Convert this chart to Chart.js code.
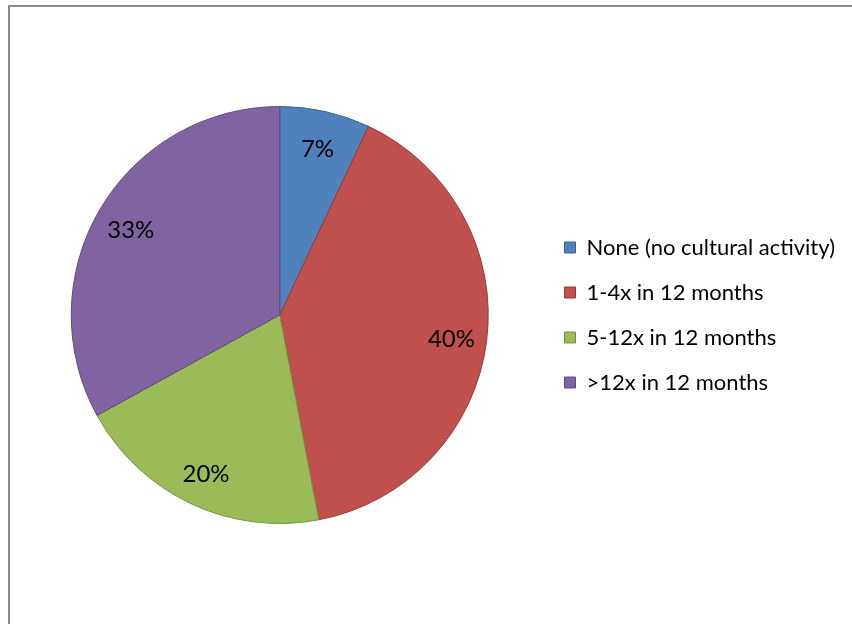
<!DOCTYPE html>
<html>
<head>
<meta charset="utf-8">
<script src="https://cdn.jsdelivr.net/npm/chart.js@4/dist/chart.umd.min.js"></script>
<style>
  html, body { margin: 0; padding: 0; background: #fff; }
  #wrap { position: relative; width: 852px; height: 624px; overflow: hidden; }
  #frame {
    position: absolute; left: 8px; top: 5px; width: 900px; height: 700px;
    border-left: 2px solid #8c8c8c; border-top: 2px solid #8c8c8c;
  }
  #activityChart { position: absolute; left: 0; top: 0; }
</style>
</head>
<body>
<div id="wrap">
  <div id="frame"></div>
  <canvas id="activityChart" width="852" height="624"></canvas>
</div>
<script>
  const categories = ['None (no cultural activity)', '1-4x in 12 months', '5-12x in 12 months', '>12x in 12 months'];
  const shares = [7, 40, 20, 33];
  const fillColours = ['#4f81bd', '#c0504d', '#9bbb59', '#8064a2'];
  const edgeColours = ['#3b6596', '#943c3a', '#76913f', '#5f4a7c'];

  // percentage text inside each slice, placed along the slice's middle angle
  const sliceLabels = {
    id: 'sliceLabels',
    afterDatasetsDraw(chart) {
      const ctx = chart.ctx;
      const meta = chart.getDatasetMeta(0);
      ctx.save();
      ctx.font = '24px Lato';
      ctx.fillStyle = '#000';
      ctx.textAlign = 'center';
      ctx.textBaseline = 'middle';
      meta.data.forEach((arc, i) => {
        const p = arc.getProps(['x', 'y', 'startAngle', 'endAngle', 'outerRadius'], true);
        const mid = (p.startAngle + p.endAngle) / 2;
        const r = p.outerRadius * 0.83;
        ctx.fillText(shares[i] + '%', p.x + Math.cos(mid) * r, p.y + Math.sin(mid) * r + 3);
      });
      ctx.restore();
    }
  };

  new Chart(document.getElementById('activityChart'), {
    type: 'pie',
    data: {
      labels: categories,
      datasets: [{
        data: shares,
        backgroundColor: fillColours,
        borderColor: edgeColours,
        borderWidth: 1
      }]
    },
    options: {
      responsive: false,
      devicePixelRatio: 1,
      animation: false,
      layout: { padding: { top: 106, bottom: 100, left: 18, right: 7 } },
      plugins: {
        tooltip: { enabled: false },
        legend: {
          position: 'right',
          labels: {
            boxWidth: 11,
            boxHeight: 11,
            padding: 23,
            color: '#000',
            font: { family: 'Lato', size: 22 }
          }
        }
      }
    },
    plugins: [sliceLabels]
  });
</script>
</body>
</html>
